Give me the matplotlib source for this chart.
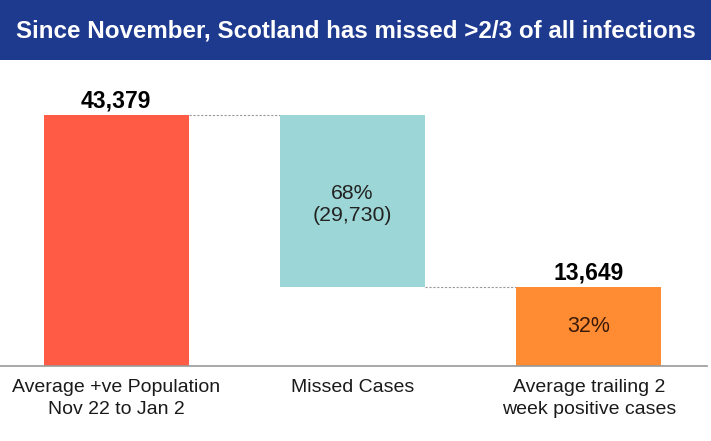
import matplotlib
matplotlib.use("Agg")
import matplotlib.pyplot as plt
from matplotlib import font_manager as fm
from matplotlib.patches import Rectangle

names = {f.name for f in fm.fontManager.ttflist}
narrow = "Liberation Sans Narrow" if "Liberation Sans Narrow" in names else "Liberation Sans"
reg = "Liberation Sans"

title = "Since November, Scotland has missed >2/3 of all infections"
categories = ["Average +ve Population\nNov 22 to Jan 2", "Missed Cases",
              "Average trailing 2\nweek positive cases"]
total = 43379
missed = 29730
detected = 13649
missed_label = "68%\n(29,730)"
detected_pct = "32%"

bottoms = [0, detected, 0]
heights = [total, missed, detected]
colors = ["#FF5B45", "#9DD6D6", "#FF8C33"]

fig = plt.figure(figsize=(7.11, 4.41), dpi=100)
fig.patch.set_facecolor("white")
# title banner
fig.patches.append(Rectangle((0, 1 - 60/441), 1, 60/441, transform=fig.transFigure,
                             facecolor="#1E3A8F", edgecolor="none", zorder=0))
fig.text(0.5, 1 - 31/441, title, color="white", fontsize=17.4, fontweight="bold",
         family=[narrow, "DejaVu Sans"], ha="center", va="center")

ax = fig.add_axes([-2/711, 75/441, 0.997, 296/441])
x = [0, 1, 2]
w = 0.613
ax.bar(x, heights, bottom=bottoms, width=w, color=colors, zorder=2)
ax.set_xlim(-0.5, 2.5)
ax.set_ylim(0, 296 * total / 251)
for s in ["top", "right", "left"]:
    ax.spines[s].set_visible(False)
ax.spines["bottom"].set_color("#999999")
ax.spines["bottom"].set_linewidth(1.2)
ax.set_yticks([])
ax.set_xticks(x)
ax.set_xticklabels(categories, fontsize=14, family=reg, color="#1a1a1a", linespacing=1.45)
ax.tick_params(axis="x", length=0, pad=9)

# connectors
ax.plot([0 + w/2, 1 - w/2], [total, total], ls=(0, (2, 1.5)), color="#999999", lw=0.8, zorder=1)
ax.plot([1 + w/2, 2 - w/2], [detected, detected], ls=(0, (2, 1.5)), color="#999999", lw=0.8, zorder=1)

ax.text(0, total + 500, f"{total:,}", ha="center", va="bottom", fontsize=16.5,
        fontweight="bold", family=[narrow, "DejaVu Sans"], color="black")
ax.text(2, detected + 500, f"{detected:,}", ha="center", va="bottom", fontsize=16.5,
        fontweight="bold", family=[narrow, "DejaVu Sans"], color="black")
ax.text(1, detected + missed * 0.48, missed_label, ha="center", va="center",
        fontsize=15.3, family=reg, color="#222222", linespacing=1.15)
ax.text(2, detected * 0.5, detected_pct, ha="center", va="center",
        fontsize=15.5, family=reg, color="#3a1a0a")

fig.savefig("out.png", dpi=100)
